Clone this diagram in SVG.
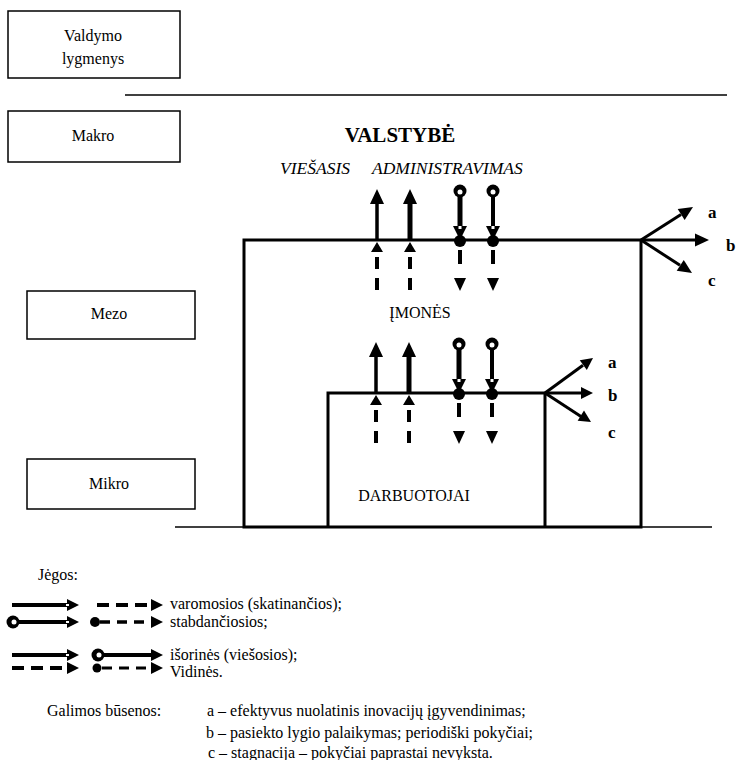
<svg xmlns="http://www.w3.org/2000/svg" xmlns:xlink="http://www.w3.org/1999/xlink" width="740" height="760" viewBox="0 0 740 760">
<style>
text{font-family:'Liberation Serif','Times New Roman',Times,serif}
.t{font-size:16px;fill:#000}
.lab{font-size:17px;font-weight:bold;fill:#000}
.bx{fill:#fff;stroke:#000;stroke-width:1.5}
.frame{fill:none;stroke:#000;stroke-width:3}
.thin{stroke:#000;stroke-width:1.5;fill:none}
.sh{stroke:#000;fill:none}
.dash{stroke:#000;fill:none;stroke-width:4;stroke-dasharray:12 9}
</style>
<defs>
<path id="hUp" d="M0,0 L7,15 L-7,15 Z"/>
<path id="hUpS" d="M0,0 L6,10 L-6,10 Z"/>
<path id="hDn" d="M0,0 L7,-14 L-7,-14 Z"/>
<path id="hDnS" d="M0,0 L6,-13 L-6,-13 Z"/>
<path id="hR" d="M0,0 L-14,-6.5 L-14,6.5 Z"/>
<path id="hRS" d="M0,0 L-12,-6 L-12,6 Z"/>
<g id="forces">
  <line class="sh" x1="377" y1="0" x2="377" y2="-37" stroke-width="3.5"/>
  <use xlink:href="#hUp" x="377" y="-51"/>
  <use xlink:href="#hUpS" x="377" y="2"/>
  <line class="dash" x1="377" y1="17" x2="377" y2="51"/>
  <line class="sh" x1="410" y1="0" x2="410" y2="-37" stroke-width="5"/>
  <use xlink:href="#hUp" x="410" y="-51"/>
  <use xlink:href="#hUpS" x="410" y="2"/>
  <line class="dash" x1="410" y1="17" x2="410" y2="51"/>
  <circle cx="460" cy="-49" r="6.5"/>
  <circle cx="460" cy="-48" r="2.5" fill="#fff"/>
  <line class="sh" x1="460" y1="-43" x2="460" y2="-13" stroke-width="5"/>
  <use xlink:href="#hDn" x="460" y="0"/>
  <rect x="458.5" y="-14" width="3" height="3" fill="#fff"/>
  <circle cx="460" cy="1" r="6"/>
  <line class="sh" x1="460" y1="10" x2="460" y2="24" stroke-width="4"/>
  <use xlink:href="#hDnS" x="460" y="51"/>
  <circle cx="493" cy="-49" r="6.5"/>
  <circle cx="493" cy="-48" r="2.5" fill="#fff"/>
  <line class="sh" x1="493" y1="-43" x2="493" y2="-13" stroke-width="4"/>
  <use xlink:href="#hDn" x="493" y="0"/>
  <rect x="491.5" y="-14" width="3" height="3" fill="#fff"/>
  <circle cx="493" cy="1" r="6"/>
  <line class="sh" x1="493" y1="10" x2="493" y2="24" stroke-width="4"/>
  <use xlink:href="#hDnS" x="493" y="51"/>
</g>
</defs>

<g id="valdymo">
  <rect class="bx" x="8" y="11" width="172" height="67"/>
  <text class="t" x="93" y="41" text-anchor="middle">Valdymo</text>
  <text class="t" x="93" y="64" text-anchor="middle">lygmenys</text>
</g>
<g id="makro">
  <rect class="bx" x="8" y="111" width="172" height="51"/>
  <text class="t" x="93" y="141" text-anchor="middle">Makro</text>
</g>
<g id="mezo">
  <rect class="bx" x="27" y="291" width="168" height="48"/>
  <text class="t" x="109" y="319" text-anchor="middle">Mezo</text>
</g>
<g id="mikro">
  <rect class="bx" x="27" y="459" width="168" height="50"/>
  <text class="t" x="109" y="489" text-anchor="middle">Mikro</text>
</g>

<line class="thin" x1="125" y1="95" x2="727" y2="95"/>
<line class="thin" x1="175" y1="527" x2="712" y2="527"/>

<g id="valstybe">
  <text x="400" y="142" text-anchor="middle" font-size="21" font-weight="bold">VALSTYBĖ</text>
  <text x="280" y="174" font-size="17.5" font-style="italic">VIEŠASIS</text>
  <text x="372" y="174" font-size="17.5" font-style="italic">ADMINISTRAVIMAS</text>
</g>

<g id="imones">
  <path class="frame" d="M244,527 L244,240 L641,240 L641,527 Z"/>
  <text class="t" x="420" y="318" text-anchor="middle">ĮMONĖS</text>
</g>

<g id="darbuotojai">
  <path class="frame" d="M328,527 L328,393 L545,393 L545,527"/>
  <text class="t" x="414" y="501" text-anchor="middle">DARBUOTOJAI</text>
</g>

<g id="connectors">
  <use xlink:href="#forces" transform="translate(0,240)"/>
  <use xlink:href="#forces" transform="translate(-1,393)"/>
  <line class="sh" stroke-width="3" x1="641" y1="240" x2="681" y2="214.5"/>
  <use xlink:href="#hR" transform="translate(693,207) rotate(-32.4)"/>
  <line class="sh" stroke-width="3" x1="641" y1="240" x2="696" y2="240"/>
  <use xlink:href="#hR" transform="translate(709,240)"/>
  <line class="sh" stroke-width="3" x1="641" y1="240" x2="680" y2="265.3"/>
  <use xlink:href="#hR" transform="translate(692,273) rotate(32.9)"/>
  <line class="sh" stroke-width="3" x1="545" y1="393" x2="583" y2="365.3"/>
  <use xlink:href="#hRS" transform="translate(593,358) rotate(-36)"/>
  <line class="sh" stroke-width="3" x1="545" y1="393" x2="582" y2="393"/>
  <use xlink:href="#hRS" transform="translate(593,393)"/>
  <line class="sh" stroke-width="3" x1="545" y1="393" x2="581" y2="416.6"/>
  <use xlink:href="#hRS" transform="translate(591,422) rotate(32)"/>
</g>

<g id="state-labels">
  <text class="lab" x="708" y="218">a</text>
  <text class="lab" x="726" y="251">b</text>
  <text class="lab" x="708" y="286">c</text>
  <text class="lab" x="608" y="368">a</text>
  <text class="lab" x="608" y="401">b</text>
  <text class="lab" x="608" y="438">c</text>
</g>

<g id="legend">
  <text class="t" x="38" y="580">Jėgos:</text>
  <line class="sh" stroke-width="4" x1="12" y1="605" x2="68" y2="605"/>
  <use xlink:href="#hRS" x="79" y="605"/>
  <rect x="66" y="604" width="3" height="2" fill="#fff"/>
  <line class="sh" stroke-width="4" stroke-dasharray="12 7" x1="97" y1="605" x2="151" y2="605"/>
  <use xlink:href="#hRS" x="163" y="605"/>
  <circle cx="13" cy="622" r="6.5"/>
  <circle cx="14" cy="622" r="2.5" fill="#fff"/>
  <line class="sh" stroke-width="4" x1="19" y1="622" x2="68" y2="622"/>
  <use xlink:href="#hRS" x="79" y="622"/>
  <rect x="66" y="621" width="3" height="2" fill="#fff"/>
  <circle cx="95" cy="622" r="5"/>
  <line class="sh" stroke-width="3.5" stroke-dasharray="10 7" x1="100" y1="622" x2="151" y2="622"/>
  <use xlink:href="#hRS" x="163" y="622"/>
  <line class="sh" stroke-width="4" x1="12" y1="655" x2="68" y2="655"/>
  <use xlink:href="#hRS" x="79" y="655"/>
  <rect x="66" y="654" width="3" height="2" fill="#fff"/>
  <circle cx="98" cy="655" r="6.5"/>
  <circle cx="99" cy="655" r="2.5" fill="#fff"/>
  <line class="sh" stroke-width="4" x1="104" y1="655" x2="151" y2="655"/>
  <use xlink:href="#hRS" x="163" y="655"/>
  <line class="sh" stroke-width="4" stroke-dasharray="12 7" x1="12" y1="668" x2="68" y2="668"/>
  <use xlink:href="#hRS" x="79" y="668"/>
  <circle cx="97" cy="668" r="4.5"/>
  <line class="sh" stroke-width="3" stroke-dasharray="10 7" x1="102" y1="668" x2="151" y2="668"/>
  <use xlink:href="#hRS" x="163" y="668"/>
  <text class="t" x="170" y="609">varomosios (skatinančios);</text>
  <text class="t" x="170" y="627">stabdančiosios;</text>
  <text class="t" x="170" y="660">išorinės (viešosios);</text>
  <text class="t" x="170" y="677">Vidinės.</text>
  <text class="t" x="47" y="716">Galimos būsenos:</text>
  <text class="t" x="207" y="716">a – efektyvus nuolatinis inovacijų įgyvendinimas;</text>
  <text class="t" x="206" y="738">b – pasiekto lygio palaikymas; periodiški pokyčiai;</text>
  <text class="t" x="208" y="758">c – stagnacija – pokyčiai paprastai nevyksta.</text>
</g>
</svg>
